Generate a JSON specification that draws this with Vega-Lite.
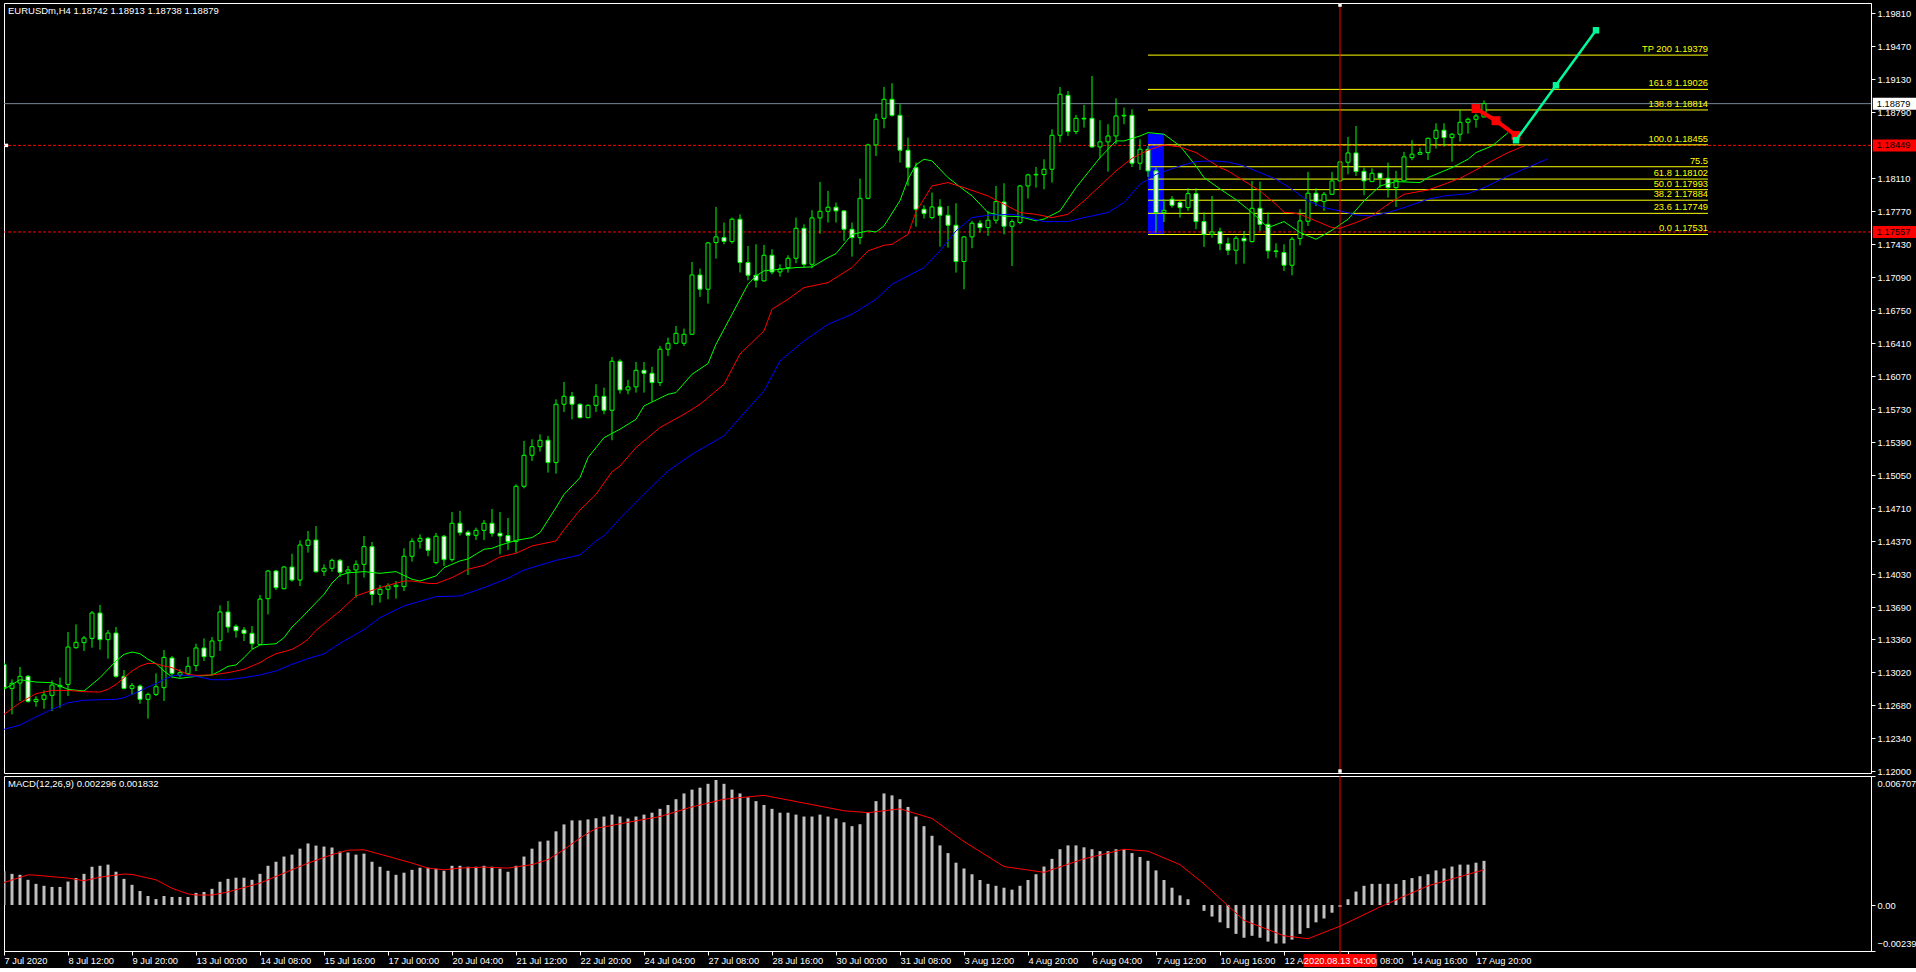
{
  "$schema": "https://vega.github.io/schema/vega-lite/v6.json",
  "background": "black",
  "padding": {"left": 3, "top": 2, "right": 0, "bottom": 0},
  "spacing": 3,
  "bounds": "flush",
  "config": {
    "view": {"stroke": "white", "strokeWidth": 1},
    "font": "Liberation Sans",
    "scale": {"continuousPadding": 0},
    "axis": {"labelOverlap": false, "labelSeparation": 0},
    "title": {"font": "Liberation Sans", "fontSize": 9.5, "fontWeight": "normal", "color": "white"}
  },
  "datasets": {
    "candles": [
      {"j":0,"o":1.13102,"h":1.1312,"l":1.12845,"c":1.12862},
      {"j":1,"o":1.12855,"h":1.12948,"l":1.12587,"c":1.12907},
      {"j":2,"o":1.1291,"h":1.13075,"l":1.12725,"c":1.12979},
      {"j":3,"o":1.12979,"h":1.12992,"l":1.12707,"c":1.12721},
      {"j":4,"o":1.12721,"h":1.12773,"l":1.12666,"c":1.12742},
      {"j":5,"o":1.12742,"h":1.12834,"l":1.12646,"c":1.12786},
      {"j":6,"o":1.12783,"h":1.12937,"l":1.12622,"c":1.12889},
      {"j":7,"o":1.12872,"h":1.12965,"l":1.12656,"c":1.12886},
      {"j":8,"o":1.12896,"h":1.13435,"l":1.12776,"c":1.13281},
      {"j":9,"o":1.13274,"h":1.13514,"l":1.13264,"c":1.13329},
      {"j":10,"o":1.13326,"h":1.13394,"l":1.1324,"c":1.13374},
      {"j":11,"o":1.1337,"h":1.13652,"l":1.13274,"c":1.13631},
      {"j":12,"o":1.13631,"h":1.13714,"l":1.13253,"c":1.13357},
      {"j":13,"o":1.13357,"h":1.13456,"l":1.13161,"c":1.13425},
      {"j":14,"o":1.13425,"h":1.13487,"l":1.12965,"c":1.12979},
      {"j":15,"o":1.12979,"h":1.13044,"l":1.12845,"c":1.12855},
      {"j":16,"o":1.12855,"h":1.1291,"l":1.12786,"c":1.12883},
      {"j":17,"o":1.12879,"h":1.12896,"l":1.12697,"c":1.12742},
      {"j":18,"o":1.12742,"h":1.1281,"l":1.12543,"c":1.12793},
      {"j":19,"o":1.12793,"h":1.1301,"l":1.12776,"c":1.12872},
      {"j":20,"o":1.12862,"h":1.1325,"l":1.12725,"c":1.13174},
      {"j":21,"o":1.13168,"h":1.13188,"l":1.12965,"c":1.1301},
      {"j":22,"o":1.12992,"h":1.13051,"l":1.12965,"c":1.13017},
      {"j":23,"o":1.13006,"h":1.13178,"l":1.12982,"c":1.13082},
      {"j":24,"o":1.13089,"h":1.13315,"l":1.13034,"c":1.13271},
      {"j":25,"o":1.13271,"h":1.1337,"l":1.13137,"c":1.13181},
      {"j":26,"o":1.13181,"h":1.13384,"l":1.12989,"c":1.13343},
      {"j":27,"o":1.13346,"h":1.1371,"l":1.1324,"c":1.13642},
      {"j":28,"o":1.13642,"h":1.13755,"l":1.13429,"c":1.13487},
      {"j":29,"o":1.13494,"h":1.13514,"l":1.13377,"c":1.13449},
      {"j":30,"o":1.13456,"h":1.13487,"l":1.13343,"c":1.13422},
      {"j":31,"o":1.13422,"h":1.13497,"l":1.13257,"c":1.13315},
      {"j":32,"o":1.13308,"h":1.13817,"l":1.13302,"c":1.13775},
      {"j":33,"o":1.13779,"h":1.14074,"l":1.13617,"c":1.14064},
      {"j":34,"o":1.14064,"h":1.14074,"l":1.13868,"c":1.13892},
      {"j":35,"o":1.13882,"h":1.14115,"l":1.13875,"c":1.14105},
      {"j":36,"o":1.14105,"h":1.14242,"l":1.13954,"c":1.13971},
      {"j":37,"o":1.13971,"h":1.1438,"l":1.13909,"c":1.14332},
      {"j":38,"o":1.14328,"h":1.14476,"l":1.14253,"c":1.14383},
      {"j":39,"o":1.14383,"h":1.14527,"l":1.14047,"c":1.14057},
      {"j":40,"o":1.14061,"h":1.14133,"l":1.14013,"c":1.14092},
      {"j":41,"o":1.14092,"h":1.14192,"l":1.14058,"c":1.14174},
      {"j":42,"o":1.14174,"h":1.14188,"l":1.14003,"c":1.14051},
      {"j":43,"o":1.14051,"h":1.14116,"l":1.13927,"c":1.14075},
      {"j":44,"o":1.14075,"h":1.14174,"l":1.1379,"c":1.14133},
      {"j":45,"o":1.14133,"h":1.14425,"l":1.13996,"c":1.14315},
      {"j":46,"o":1.14315,"h":1.14363,"l":1.13711,"c":1.13824},
      {"j":47,"o":1.13824,"h":1.1392,"l":1.13738,"c":1.13876},
      {"j":48,"o":1.13876,"h":1.13937,"l":1.13773,"c":1.1391},
      {"j":49,"o":1.13903,"h":1.13961,"l":1.13779,"c":1.13917},
      {"j":50,"o":1.13903,"h":1.14298,"l":1.13858,"c":1.14216},
      {"j":51,"o":1.14216,"h":1.14401,"l":1.14161,"c":1.1437},
      {"j":52,"o":1.1437,"h":1.14442,"l":1.14295,"c":1.14401},
      {"j":53,"o":1.14401,"h":1.14415,"l":1.14216,"c":1.14277},
      {"j":54,"o":1.1415,"h":1.14456,"l":1.14133,"c":1.14422},
      {"j":55,"o":1.14422,"h":1.14435,"l":1.14116,"c":1.14181},
      {"j":56,"o":1.14181,"h":1.14672,"l":1.14161,"c":1.14556},
      {"j":57,"o":1.14556,"h":1.14683,"l":1.14429,"c":1.14459},
      {"j":58,"o":1.14463,"h":1.14483,"l":1.14023,"c":1.14432},
      {"j":59,"o":1.14432,"h":1.14511,"l":1.14384,"c":1.14483},
      {"j":60,"o":1.14483,"h":1.1459,"l":1.14384,"c":1.14556},
      {"j":61,"o":1.14556,"h":1.14703,"l":1.14418,"c":1.14453},
      {"j":62,"o":1.14453,"h":1.14672,"l":1.14236,"c":1.14425},
      {"j":63,"o":1.14429,"h":1.1461,"l":1.14281,"c":1.14367},
      {"j":64,"o":1.14367,"h":1.14957,"l":1.14253,"c":1.14937},
      {"j":65,"o":1.14937,"h":1.15404,"l":1.14916,"c":1.15256},
      {"j":66,"o":1.15256,"h":1.15421,"l":1.15198,"c":1.15345},
      {"j":67,"o":1.15345,"h":1.15472,"l":1.15294,"c":1.15411},
      {"j":68,"o":1.15411,"h":1.15455,"l":1.15078,"c":1.15181},
      {"j":69,"o":1.15181,"h":1.15833,"l":1.15067,"c":1.15782},
      {"j":70,"o":1.15782,"h":1.16012,"l":1.15703,"c":1.15864},
      {"j":71,"o":1.15864,"h":1.15909,"l":1.15627,"c":1.15782},
      {"j":72,"o":1.15782,"h":1.15792,"l":1.15637,"c":1.15644},
      {"j":73,"o":1.15644,"h":1.15782,"l":1.15637,"c":1.15771},
      {"j":74,"o":1.15771,"h":1.15988,"l":1.15703,"c":1.15864},
      {"j":75,"o":1.15864,"h":1.15953,"l":1.15679,"c":1.1572},
      {"j":76,"o":1.1572,"h":1.16269,"l":1.15411,"c":1.16225},
      {"j":77,"o":1.16225,"h":1.16246,"l":1.15892,"c":1.1593},
      {"j":78,"o":1.1593,"h":1.16033,"l":1.15885,"c":1.15961},
      {"j":79,"o":1.15961,"h":1.16218,"l":1.15902,"c":1.16132},
      {"j":80,"o":1.16132,"h":1.16218,"l":1.15902,"c":1.16101},
      {"j":81,"o":1.16101,"h":1.16167,"l":1.15809,"c":1.16005},
      {"j":82,"o":1.16005,"h":1.16383,"l":1.15971,"c":1.16349},
      {"j":83,"o":1.16349,"h":1.16469,"l":1.1628,"c":1.1641},
      {"j":84,"o":1.1641,"h":1.16589,"l":1.164,"c":1.16513},
      {"j":85,"o":1.1641,"h":1.16562,"l":1.16383,"c":1.16503},
      {"j":86,"o":1.16503,"h":1.17248,"l":1.16496,"c":1.17114},
      {"j":87,"o":1.17114,"h":1.1718,"l":1.16888,"c":1.16967},
      {"j":88,"o":1.16967,"h":1.17454,"l":1.16819,"c":1.17444},
      {"j":89,"o":1.17448,"h":1.17815,"l":1.17283,"c":1.17506},
      {"j":90,"o":1.17499,"h":1.17654,"l":1.1743,"c":1.17461},
      {"j":91,"o":1.17458,"h":1.17705,"l":1.17437,"c":1.17688},
      {"j":92,"o":1.17688,"h":1.17739,"l":1.1714,"c":1.17242},
      {"j":93,"o":1.17242,"h":1.17413,"l":1.17059,"c":1.17111},
      {"j":94,"o":1.17111,"h":1.1743,"l":1.16984,"c":1.17059},
      {"j":95,"o":1.17053,"h":1.17423,"l":1.17046,"c":1.17317},
      {"j":96,"o":1.17317,"h":1.17379,"l":1.17121,"c":1.17145},
      {"j":97,"o":1.17145,"h":1.17224,"l":1.17097,"c":1.17176},
      {"j":98,"o":1.1719,"h":1.17317,"l":1.17138,"c":1.17286},
      {"j":99,"o":1.17286,"h":1.17705,"l":1.17235,"c":1.17595},
      {"j":100,"o":1.17595,"h":1.17636,"l":1.1719,"c":1.17224},
      {"j":101,"o":1.17224,"h":1.17781,"l":1.17183,"c":1.17702},
      {"j":102,"o":1.17702,"h":1.18073,"l":1.1754,"c":1.1777},
      {"j":103,"o":1.1777,"h":1.1798,"l":1.17654,"c":1.17812},
      {"j":104,"o":1.17812,"h":1.1786,"l":1.17654,"c":1.17774},
      {"j":105,"o":1.17774,"h":1.17781,"l":1.17465,"c":1.17585},
      {"j":106,"o":1.17585,"h":1.17654,"l":1.17303,"c":1.17499},
      {"j":107,"o":1.17499,"h":1.18107,"l":1.1743,"c":1.17904},
      {"j":108,"o":1.17904,"h":1.18467,"l":1.17894,"c":1.18454},
      {"j":109,"o":1.18454,"h":1.18776,"l":1.1834,"c":1.18718},
      {"j":110,"o":1.18728,"h":1.19051,"l":1.18625,"c":1.18924},
      {"j":111,"o":1.18924,"h":1.19089,"l":1.18746,"c":1.18759},
      {"j":112,"o":1.18759,"h":1.18873,"l":1.18272,"c":1.18399},
      {"j":113,"o":1.18399,"h":1.18529,"l":1.18031,"c":1.1822},
      {"j":114,"o":1.1822,"h":1.18272,"l":1.17612,"c":1.17791},
      {"j":115,"o":1.17791,"h":1.17832,"l":1.17695,"c":1.17746},
      {"j":116,"o":1.17705,"h":1.17963,"l":1.17688,"c":1.17815},
      {"j":117,"o":1.17815,"h":1.17894,"l":1.17406,"c":1.17729},
      {"j":118,"o":1.17729,"h":1.17825,"l":1.17396,"c":1.17626},
      {"j":119,"o":1.17626,"h":1.17853,"l":1.17138,"c":1.17252},
      {"j":120,"o":1.17252,"h":1.17516,"l":1.16967,"c":1.17506},
      {"j":121,"o":1.17506,"h":1.17671,"l":1.17389,"c":1.17647},
      {"j":122,"o":1.17647,"h":1.17678,"l":1.1755,"c":1.17602},
      {"j":123,"o":1.17602,"h":1.17774,"l":1.17516,"c":1.17678},
      {"j":124,"o":1.17678,"h":1.18031,"l":1.17643,"c":1.1787},
      {"j":125,"o":1.17866,"h":1.18059,"l":1.17533,"c":1.17616},
      {"j":126,"o":1.17616,"h":1.17688,"l":1.17207,"c":1.17664},
      {"j":127,"o":1.17654,"h":1.18042,"l":1.17636,"c":1.18031},
      {"j":128,"o":1.18031,"h":1.18158,"l":1.17901,"c":1.18145},
      {"j":129,"o":1.18145,"h":1.18227,"l":1.18014,"c":1.18151},
      {"j":130,"o":1.18148,"h":1.18306,"l":1.17997,"c":1.18203},
      {"j":131,"o":1.18203,"h":1.18615,"l":1.18066,"c":1.18553},
      {"j":132,"o":1.18553,"h":1.19051,"l":1.18478,"c":1.18976},
      {"j":133,"o":1.18965,"h":1.1901,"l":1.18546,"c":1.18591},
      {"j":134,"o":1.18591,"h":1.18763,"l":1.18564,"c":1.18728},
      {"j":135,"o":1.18728,"h":1.18866,"l":1.18632,"c":1.18721},
      {"j":136,"o":1.18728,"h":1.19164,"l":1.18426,"c":1.18433},
      {"j":137,"o":1.18433,"h":1.18708,"l":1.18316,"c":1.18485},
      {"j":138,"o":1.18485,"h":1.18667,"l":1.18179,"c":1.18546},
      {"j":139,"o":1.18546,"h":1.18934,"l":1.18461,"c":1.18752},
      {"j":140,"o":1.18752,"h":1.18838,"l":1.18667,"c":1.18759},
      {"j":141,"o":1.18759,"h":1.18821,"l":1.18227,"c":1.18265},
      {"j":142,"o":1.18265,"h":1.18512,"l":1.18196,"c":1.18409},
      {"j":143,"o":1.18409,"h":1.18443,"l":1.18124,"c":1.18186},
      {"j":144,"o":1.18186,"h":1.1822,"l":1.1755,"c":1.17757},
      {"j":145,"o":1.17757,"h":1.17894,"l":1.1766,"c":1.1778},
      {"j":146,"o":1.17894,"h":1.17928,"l":1.17808,"c":1.17832},
      {"j":147,"o":1.1786,"h":1.17877,"l":1.17705,"c":1.17808},
      {"j":148,"o":1.17808,"h":1.18007,"l":1.17774,"c":1.17952},
      {"j":149,"o":1.17952,"h":1.18007,"l":1.17585,"c":1.17664},
      {"j":150,"o":1.17664,"h":1.17757,"l":1.17403,"c":1.17533},
      {"j":151,"o":1.17533,"h":1.17928,"l":1.17499,"c":1.17557},
      {"j":152,"o":1.17561,"h":1.17602,"l":1.17369,"c":1.17437},
      {"j":153,"o":1.17437,"h":1.17499,"l":1.1732,"c":1.17369},
      {"j":154,"o":1.17369,"h":1.17516,"l":1.17224,"c":1.17492},
      {"j":155,"o":1.17492,"h":1.17568,"l":1.17231,"c":1.17465},
      {"j":156,"o":1.17458,"h":1.18083,"l":1.17448,"c":1.17801},
      {"j":157,"o":1.17801,"h":1.18076,"l":1.17568,"c":1.17636},
      {"j":158,"o":1.17636,"h":1.17757,"l":1.17283,"c":1.17362},
      {"j":159,"o":1.17362,"h":1.17441,"l":1.17293,"c":1.17355},
      {"j":160,"o":1.17345,"h":1.1743,"l":1.17156,"c":1.17214},
      {"j":161,"o":1.17214,"h":1.17506,"l":1.17111,"c":1.17482},
      {"j":162,"o":1.17489,"h":1.17791,"l":1.1742,"c":1.17671},
      {"j":163,"o":1.17667,"h":1.18176,"l":1.17619,"c":1.17956},
      {"j":164,"o":1.17956,"h":1.18007,"l":1.17825,"c":1.1787},
      {"j":165,"o":1.1787,"h":1.17969,"l":1.17774,"c":1.17945},
      {"j":166,"o":1.17945,"h":1.18176,"l":1.17939,"c":1.18083},
      {"j":167,"o":1.18083,"h":1.18279,"l":1.18076,"c":1.18279},
      {"j":168,"o":1.18275,"h":1.18536,"l":1.18152,"c":1.18371},
      {"j":169,"o":1.18371,"h":1.18649,"l":1.18134,"c":1.18179},
      {"j":170,"o":1.18182,"h":1.1822,"l":1.17935,"c":1.18083},
      {"j":171,"o":1.18076,"h":1.18213,"l":1.18076,"c":1.18162},
      {"j":172,"o":1.18162,"h":1.18162,"l":1.18014,"c":1.1811},
      {"j":173,"o":1.1811,"h":1.18272,"l":1.17911,"c":1.18014},
      {"j":174,"o":1.18014,"h":1.18186,"l":1.17815,"c":1.1809},
      {"j":175,"o":1.18083,"h":1.18382,"l":1.18076,"c":1.1833},
      {"j":176,"o":1.18323,"h":1.18502,"l":1.18296,"c":1.18358},
      {"j":177,"o":1.18358,"h":1.18426,"l":1.18351,"c":1.18375},
      {"j":178,"o":1.18375,"h":1.18529,"l":1.18299,"c":1.18522},
      {"j":179,"o":1.18522,"h":1.18677,"l":1.18416,"c":1.18605},
      {"j":180,"o":1.18605,"h":1.18677,"l":1.18437,"c":1.18529},
      {"j":181,"o":1.18529,"h":1.18577,"l":1.18282,"c":1.18564},
      {"j":182,"o":1.18564,"h":1.18814,"l":1.18488,"c":1.18687},
      {"j":183,"o":1.18687,"h":1.18735,"l":1.1857,"c":1.18718},
      {"j":184,"o":1.18718,"h":1.18776,"l":1.18632,"c":1.18752},
      {"j":185,"o":1.18742,"h":1.18913,"l":1.18738,"c":1.18879}
    ],
    "ma": [
      {"s":"lips","j":0,"v":1.12845},{"s":"lips","j":2,"v":1.12944},{"s":"lips","j":4,"v":1.1292},{"s":"lips","j":6,"v":1.12913},{"s":"lips","j":8,"v":1.12845},{"s":"lips","j":10,"v":1.12828},{"s":"lips","j":11,"v":1.12896},{"s":"lips","j":12,"v":1.12965},{"s":"lips","j":13,"v":1.13051},{"s":"lips","j":14,"v":1.13137},{"s":"lips","j":15,"v":1.13205},{"s":"lips","j":16,"v":1.13229},{"s":"lips","j":17,"v":1.13212},{"s":"lips","j":18,"v":1.13154},{"s":"lips","j":19,"v":1.13109},{"s":"lips","j":20,"v":1.13034},{"s":"lips","j":21,"v":1.12972},{"s":"lips","j":22,"v":1.12958},{"s":"lips","j":24,"v":1.12979},{"s":"lips","j":26,"v":1.12993},{"s":"lips","j":27,"v":1.13034},{"s":"lips","j":28,"v":1.13082},{"s":"lips","j":29,"v":1.13096},{"s":"lips","j":30,"v":1.13171},{"s":"lips","j":31,"v":1.13257},{"s":"lips","j":32,"v":1.13302},{"s":"lips","j":34,"v":1.13315},{"s":"lips","j":35,"v":1.13377},{"s":"lips","j":36,"v":1.13487},{"s":"lips","j":37,"v":1.13566},{"s":"lips","j":38,"v":1.13652},{"s":"lips","j":39,"v":1.13738},{"s":"lips","j":40,"v":1.13824},{"s":"lips","j":41,"v":1.1394},{"s":"lips","j":42,"v":1.1402},{"s":"lips","j":43,"v":1.14045},{"s":"lips","j":45,"v":1.14058},{"s":"lips","j":47,"v":1.1404},{"s":"lips","j":49,"v":1.14058},{"s":"lips","j":51,"v":1.13979},{"s":"lips","j":52,"v":1.13961},{"s":"lips","j":54,"v":1.14013},{"s":"lips","j":55,"v":1.14099},{"s":"lips","j":57,"v":1.14168},{"s":"lips","j":58,"v":1.14188},{"s":"lips","j":60,"v":1.14288},{"s":"lips","j":61,"v":1.14298},{"s":"lips","j":62,"v":1.14329},{"s":"lips","j":64,"v":1.1438},{"s":"lips","j":66,"v":1.14408},{"s":"lips","j":67,"v":1.1446},{"s":"lips","j":69,"v":1.14717},{"s":"lips","j":70,"v":1.14854},{"s":"lips","j":72,"v":1.15026},{"s":"lips","j":73,"v":1.15232},{"s":"lips","j":75,"v":1.15438},{"s":"lips","j":77,"v":1.15525},{"s":"lips","j":79,"v":1.15627},{"s":"lips","j":80,"v":1.15765},{"s":"lips","j":83,"v":1.15885},{"s":"lips","j":84,"v":1.15902},{"s":"lips","j":86,"v":1.16091},{"s":"lips","j":88,"v":1.16201},{"s":"lips","j":89,"v":1.164},{"s":"lips","j":91,"v":1.16709},{"s":"lips","j":93,"v":1.17018},{"s":"lips","j":94,"v":1.17104},{"s":"lips","j":95,"v":1.17156},{"s":"lips","j":97,"v":1.17173},{"s":"lips","j":99,"v":1.1719},{"s":"lips","j":101,"v":1.17197},{"s":"lips","j":103,"v":1.17293},{"s":"lips","j":104,"v":1.17334},{"s":"lips","j":106,"v":1.17533},{"s":"lips","j":108,"v":1.17568},{"s":"lips","j":109,"v":1.17557},{"s":"lips","j":110,"v":1.17619},{"s":"lips","j":112,"v":1.1788},{"s":"lips","j":113,"v":1.181},{"s":"lips","j":114,"v":1.1825},{"s":"lips","j":115,"v":1.18306},{"s":"lips","j":116,"v":1.18289},{"s":"lips","j":118,"v":1.18117},{"s":"lips","j":120,"v":1.1799},{"s":"lips","j":121,"v":1.1793},{"s":"lips","j":123,"v":1.17757},{"s":"lips","j":125,"v":1.1772},{"s":"lips","j":127,"v":1.17715},{"s":"lips","j":129,"v":1.17671},{"s":"lips","j":130,"v":1.1769},{"s":"lips","j":132,"v":1.17774},{"s":"lips","j":134,"v":1.18014},{"s":"lips","j":136,"v":1.1822},{"s":"lips","j":137,"v":1.18323},{"s":"lips","j":139,"v":1.18495},{"s":"lips","j":140,"v":1.18495},{"s":"lips","j":142,"v":1.18546},{"s":"lips","j":143,"v":1.18581},{"s":"lips","j":145,"v":1.18564},{"s":"lips","j":147,"v":1.18443},{"s":"lips","j":149,"v":1.18237},{"s":"lips","j":150,"v":1.18117},{"s":"lips","j":152,"v":1.18},{"s":"lips","j":154,"v":1.1789},{"s":"lips","j":156,"v":1.17757},{"s":"lips","j":158,"v":1.17602},{"s":"lips","j":160,"v":1.17664},{"s":"lips","j":162,"v":1.17551},{"s":"lips","j":164,"v":1.17482},{"s":"lips","j":166,"v":1.17575},{"s":"lips","j":168,"v":1.17688},{"s":"lips","j":170,"v":1.17877},{"s":"lips","j":172,"v":1.18031},{"s":"lips","j":174,"v":1.18076},{"s":"lips","j":177,"v":1.18066},{"s":"lips","j":178,"v":1.18117},{"s":"lips","j":181,"v":1.1822},{"s":"lips","j":183,"v":1.18306},{"s":"lips","j":184,"v":1.18375},{"s":"lips","j":186,"v":1.18443},{"s":"lips","j":188,"v":1.1858},
      {"s":"teeth","j":0,"v":1.12587},{"s":"teeth","j":2,"v":1.12707},{"s":"teeth","j":4,"v":1.128},{"s":"teeth","j":6,"v":1.12834},{"s":"teeth","j":8,"v":1.12834},{"s":"teeth","j":10,"v":1.12821},{"s":"teeth","j":12,"v":1.12817},{"s":"teeth","j":13,"v":1.12845},{"s":"teeth","j":14,"v":1.12896},{"s":"teeth","j":15,"v":1.12965},{"s":"teeth","j":16,"v":1.13034},{"s":"teeth","j":17,"v":1.13085},{"s":"teeth","j":18,"v":1.13113},{"s":"teeth","j":19,"v":1.13109},{"s":"teeth","j":20,"v":1.13085},{"s":"teeth","j":21,"v":1.13068},{"s":"teeth","j":22,"v":1.13034},{"s":"teeth","j":23,"v":1.12999},{"s":"teeth","j":24,"v":1.12989},{"s":"teeth","j":26,"v":1.12993},{"s":"teeth","j":28,"v":1.13017},{"s":"teeth","j":30,"v":1.13051},{"s":"teeth","j":32,"v":1.1312},{"s":"teeth","j":33,"v":1.13171},{"s":"teeth","j":34,"v":1.13212},{"s":"teeth","j":35,"v":1.13233},{"s":"teeth","j":36,"v":1.13257},{"s":"teeth","j":37,"v":1.13302},{"s":"teeth","j":38,"v":1.1336},{"s":"teeth","j":39,"v":1.13453},{"s":"teeth","j":42,"v":1.13652},{"s":"teeth","j":44,"v":1.13807},{"s":"teeth","j":47,"v":1.13893},{"s":"teeth","j":50,"v":1.13961},{"s":"teeth","j":51,"v":1.13961},{"s":"teeth","j":53,"v":1.13937},{"s":"teeth","j":54,"v":1.13934},{"s":"teeth","j":56,"v":1.13996},{"s":"teeth","j":58,"v":1.14082},{"s":"teeth","j":60,"v":1.14123},{"s":"teeth","j":62,"v":1.14209},{"s":"teeth","j":64,"v":1.14247},{"s":"teeth","j":66,"v":1.14322},{"s":"teeth","j":69,"v":1.14374},{"s":"teeth","j":70,"v":1.1449},{"s":"teeth","j":72,"v":1.14693},{"s":"teeth","j":74,"v":1.14854},{"s":"teeth","j":76,"v":1.15087},{"s":"teeth","j":77,"v":1.15146},{"s":"teeth","j":79,"v":1.15336},{"s":"teeth","j":82,"v":1.15542},{"s":"teeth","j":85,"v":1.15679},{"s":"teeth","j":87,"v":1.15782},{"s":"teeth","j":90,"v":1.15988},{"s":"teeth","j":92,"v":1.163},{"s":"teeth","j":95,"v":1.16538},{"s":"teeth","j":96,"v":1.16761},{"s":"teeth","j":98,"v":1.16864},{"s":"teeth","j":100,"v":1.16984},{"s":"teeth","j":103,"v":1.17035},{"s":"teeth","j":105,"v":1.17139},{"s":"teeth","j":106,"v":1.1719},{"s":"teeth","j":108,"v":1.17362},{"s":"teeth","j":110,"v":1.1742},{"s":"teeth","j":111,"v":1.1743},{"s":"teeth","j":112,"v":1.17482},{"s":"teeth","j":113,"v":1.17533},{"s":"teeth","j":114,"v":1.17765},{"s":"teeth","j":116,"v":1.18031},{"s":"teeth","j":118,"v":1.18066},{"s":"teeth","j":120,"v":1.18014},{"s":"teeth","j":123,"v":1.17928},{"s":"teeth","j":125,"v":1.17842},{"s":"teeth","j":127,"v":1.17757},{"s":"teeth","j":129,"v":1.17739},{"s":"teeth","j":131,"v":1.17705},{"s":"teeth","j":133,"v":1.17739},{"s":"teeth","j":135,"v":1.17877},{"s":"teeth","j":137,"v":1.18031},{"s":"teeth","j":139,"v":1.18186},{"s":"teeth","j":141,"v":1.18316},{"s":"teeth","j":143,"v":1.18399},{"s":"teeth","j":145,"v":1.18454},{"s":"teeth","j":147,"v":1.18433},{"s":"teeth","j":149,"v":1.18375},{"s":"teeth","j":151,"v":1.18272},{"s":"teeth","j":152,"v":1.1822},{"s":"teeth","j":153,"v":1.18186},{"s":"teeth","j":155,"v":1.18083},{"s":"teeth","j":157,"v":1.1798},{"s":"teeth","j":159,"v":1.17842},{"s":"teeth","j":160,"v":1.1776},{"s":"teeth","j":161,"v":1.17755},{"s":"teeth","j":162,"v":1.17739},{"s":"teeth","j":164,"v":1.17671},{"s":"teeth","j":166,"v":1.17602},{"s":"teeth","j":167,"v":1.17595},{"s":"teeth","j":169,"v":1.17654},{"s":"teeth","j":171,"v":1.17722},{"s":"teeth","j":173,"v":1.17842},{"s":"teeth","j":175,"v":1.17945},{"s":"teeth","j":178,"v":1.1799},{"s":"teeth","j":180,"v":1.18048},{"s":"teeth","j":182,"v":1.1811},{"s":"teeth","j":184,"v":1.18196},{"s":"teeth","j":186,"v":1.18289},{"s":"teeth","j":188,"v":1.18375},{"s":"teeth","j":190,"v":1.18443},
      {"s":"jaw","j":0,"v":1.12433},{"s":"jaw","j":2,"v":1.12477},{"s":"jaw","j":4,"v":1.1256},{"s":"jaw","j":6,"v":1.12639},{"s":"jaw","j":8,"v":1.12707},{"s":"jaw","j":10,"v":1.12732},{"s":"jaw","j":12,"v":1.12738},{"s":"jaw","j":14,"v":1.12742},{"s":"jaw","j":15,"v":1.12759},{"s":"jaw","j":16,"v":1.12793},{"s":"jaw","j":17,"v":1.12828},{"s":"jaw","j":18,"v":1.12869},{"s":"jaw","j":19,"v":1.12903},{"s":"jaw","j":20,"v":1.12948},{"s":"jaw","j":21,"v":1.12982},{"s":"jaw","j":22,"v":1.12993},{"s":"jaw","j":24,"v":1.12979},{"s":"jaw","j":26,"v":1.12944},{"s":"jaw","j":28,"v":1.12944},{"s":"jaw","j":30,"v":1.12965},{"s":"jaw","j":32,"v":1.12993},{"s":"jaw","j":34,"v":1.13034},{"s":"jaw","j":36,"v":1.13103},{"s":"jaw","j":38,"v":1.13161},{"s":"jaw","j":40,"v":1.1321},{"s":"jaw","j":42,"v":1.1332},{"s":"jaw","j":45,"v":1.1346},{"s":"jaw","j":47,"v":1.13584},{"s":"jaw","j":50,"v":1.13704},{"s":"jaw","j":54,"v":1.138},{"s":"jaw","j":57,"v":1.13807},{"s":"jaw","j":60,"v":1.13893},{"s":"jaw","j":63,"v":1.13989},{"s":"jaw","j":65,"v":1.14075},{"s":"jaw","j":69,"v":1.14174},{"s":"jaw","j":72,"v":1.14229},{"s":"jaw","j":74,"v":1.14374},{"s":"jaw","j":75,"v":1.14426},{"s":"jaw","j":77,"v":1.14605},{"s":"jaw","j":80,"v":1.14855},{"s":"jaw","j":83,"v":1.15095},{"s":"jaw","j":86,"v":1.15267},{"s":"jaw","j":90,"v":1.15456},{"s":"jaw","j":92,"v":1.15645},{"s":"jaw","j":95,"v":1.15919},{"s":"jaw","j":97,"v":1.16228},{"s":"jaw","j":100,"v":1.16434},{"s":"jaw","j":103,"v":1.16606},{"s":"jaw","j":106,"v":1.16709},{"s":"jaw","j":109,"v":1.16864},{"s":"jaw","j":111,"v":1.17018},{"s":"jaw","j":113,"v":1.17104},{"s":"jaw","j":115,"v":1.1719},{"s":"jaw","j":117,"v":1.17362},{"s":"jaw","j":119,"v":1.17568},{"s":"jaw","j":121,"v":1.17705},{"s":"jaw","j":123,"v":1.17729},{"s":"jaw","j":126,"v":1.17739},{"s":"jaw","j":128,"v":1.17705},{"s":"jaw","j":130,"v":1.17664},{"s":"jaw","j":133,"v":1.17664},{"s":"jaw","j":135,"v":1.17705},{"s":"jaw","j":138,"v":1.17757},{"s":"jaw","j":140,"v":1.1786},{"s":"jaw","j":142,"v":1.18048},{"s":"jaw","j":144,"v":1.18151},{"s":"jaw","j":147,"v":1.18237},{"s":"jaw","j":149,"v":1.18282},{"s":"jaw","j":151,"v":1.18289},{"s":"jaw","j":153,"v":1.18279},{"s":"jaw","j":155,"v":1.18237},{"s":"jaw","j":157,"v":1.18169},{"s":"jaw","j":159,"v":1.181},{"s":"jaw","j":161,"v":1.17997},{"s":"jaw","j":163,"v":1.17877},{"s":"jaw","j":165,"v":1.17808},{"s":"jaw","j":167,"v":1.17774},{"s":"jaw","j":169,"v":1.17733},{"s":"jaw","j":171,"v":1.17722},{"s":"jaw","j":173,"v":1.17757},{"s":"jaw","j":175,"v":1.17808},{"s":"jaw","j":178,"v":1.17894},{"s":"jaw","j":180,"v":1.17928},{"s":"jaw","j":183,"v":1.17952},{"s":"jaw","j":185,"v":1.18014},{"s":"jaw","j":188,"v":1.18134},{"s":"jaw","j":193,"v":1.18312}
    ],
    "macd": [
      {"j":0,"m":0.00175},{"j":1,"m":0.00162},{"j":2,"m":0.00157},{"j":3,"m":0.00131},{"j":4,"m":0.0011},{"j":5,"m":0.001},{"j":6,"m":0.00094},{"j":7,"m":0.00094},{"j":8,"m":0.00122},{"j":9,"m":0.0014},{"j":10,"m":0.00162},{"j":11,"m":0.00199},{"j":12,"m":0.00204},{"j":13,"m":0.0021},{"j":14,"m":0.00173},{"j":15,"m":0.00136},{"j":16,"m":0.00105},{"j":17,"m":0.00073},{"j":18,"m":0.00047},{"j":19,"m":0.00031},{"j":20,"m":0.00047},{"j":21,"m":0.00042},{"j":22,"m":0.00042},{"j":23,"m":0.00042},{"j":24,"m":0.00063},{"j":25,"m":0.00068},{"j":26,"m":0.00084},{"j":27,"m":0.00121},{"j":28,"m":0.00136},{"j":29,"m":0.00142},{"j":30,"m":0.00142},{"j":31,"m":0.00131},{"j":32,"m":0.00162},{"j":33,"m":0.00204},{"j":34,"m":0.00225},{"j":35,"m":0.00252},{"j":36,"m":0.00262},{"j":37,"m":0.00293},{"j":38,"m":0.0032},{"j":39,"m":0.00309},{"j":40,"m":0.00304},{"j":41,"m":0.00299},{"j":42,"m":0.00278},{"j":43,"m":0.00273},{"j":44,"m":0.00262},{"j":45,"m":0.00267},{"j":46,"m":0.00225},{"j":47,"m":0.00199},{"j":48,"m":0.00178},{"j":49,"m":0.00157},{"j":50,"m":0.00168},{"j":51,"m":0.00183},{"j":52,"m":0.00194},{"j":53,"m":0.00194},{"j":54,"m":0.00189},{"j":55,"m":0.00178},{"j":56,"m":0.00204},{"j":57,"m":0.00204},{"j":58,"m":0.00199},{"j":59,"m":0.00199},{"j":60,"m":0.00204},{"j":61,"m":0.00199},{"j":62,"m":0.00189},{"j":63,"m":0.00173},{"j":64,"m":0.00204},{"j":65,"m":0.00252},{"j":66,"m":0.00293},{"j":67,"m":0.0033},{"j":68,"m":0.00335},{"j":69,"m":0.00383},{"j":70,"m":0.00419},{"j":71,"m":0.0044},{"j":72,"m":0.0044},{"j":73,"m":0.00445},{"j":74,"m":0.00451},
      {"j":75,"m":0.0046},{"j":76,"m":0.0047},{"j":77,"m":0.0046},{"j":78,"m":0.0045},{"j":79,"m":0.0046},{"j":80,"m":0.0047},{"j":81,"m":0.0048},{"j":82,"m":0.005},{"j":83,"m":0.0052},{"j":84,"m":0.0055},{"j":85,"m":0.0058},{"j":86,"m":0.006},{"j":87,"m":0.0061},{"j":88,"m":0.0063},{"j":89,"m":0.0065},{"j":90,"m":0.0063},{"j":91,"m":0.006},{"j":92,"m":0.0058},{"j":93,"m":0.0056},{"j":94,"m":0.0054},{"j":95,"m":0.0052},{"j":96,"m":0.005},{"j":97,"m":0.0048},{"j":98,"m":0.0048},{"j":99,"m":0.0047},{"j":100,"m":0.0046},{"j":101,"m":0.0046},{"j":102,"m":0.0047},{"j":103,"m":0.0046},{"j":104,"m":0.0045},{"j":105,"m":0.0043},{"j":106,"m":0.0041},{"j":107,"m":0.0042},{"j":108,"m":0.0048},{"j":109,"m":0.0054},{"j":110,"m":0.0058},{"j":111,"m":0.0057},{"j":112,"m":0.0055},{"j":113,"m":0.0051},{"j":114,"m":0.0046},{"j":115,"m":0.0041},{"j":116,"m":0.0036},{"j":117,"m":0.0031},{"j":118,"m":0.0027},{"j":119,"m":0.0022},{"j":120,"m":0.0019},{"j":121,"m":0.0016},{"j":122,"m":0.0013},{"j":123,"m":0.0011},{"j":124,"m":0.001},{"j":125,"m":0.0009},{"j":126,"m":0.0008},{"j":127,"m":0.001},{"j":128,"m":0.0013},{"j":129,"m":0.0016},{"j":130,"m":0.002},{"j":131,"m":0.0024},{"j":132,"m":0.0029},{"j":133,"m":0.0031},{"j":134,"m":0.0031},{"j":135,"m":0.003},{"j":136,"m":0.0029},{"j":137,"m":0.0028},{"j":138,"m":0.0028},{"j":139,"m":0.0029},{"j":140,"m":0.0029},{"j":141,"m":0.0027},{"j":142,"m":0.0025},{"j":143,"m":0.0023},{"j":144,"m":0.0018},{"j":145,"m":0.0013},{"j":146,"m":0.0009},{"j":147,"m":0.0005},{"j":148,"m":0.0003},{"j":149,"m":0.0},{"j":150,"m":-0.0003},{"j":151,"m":-0.0006},{"j":152,"m":-0.0009},{"j":153,"m":-0.0012},{"j":154,"m":-0.0015},{"j":155,"m":-0.0017},{"j":156,"m":-0.0016},{"j":157,"m":-0.0017},{"j":158,"m":-0.0019},{"j":159,"m":-0.002},{"j":160,"m":-0.002},{"j":161,"m":-0.0018},{"j":162,"m":-0.0015},{"j":163,"m":-0.0012},{"j":164,"m":-0.0009},{"j":165,"m":-0.0007},{"j":166,"m":-0.0004},{"j":167,"m":-0.0001},{"j":168,"m":0.0003},{"j":169,"m":0.0007},{"j":170,"m":0.001},{"j":171,"m":0.0011},{"j":172,"m":0.0011},{"j":173,"m":0.0011},{"j":174,"m":0.0011},{"j":175,"m":0.0013},{"j":176,"m":0.0014},{"j":177,"m":0.0015},{"j":178,"m":0.0016},{"j":179,"m":0.0018},{"j":180,"m":0.0019},{"j":181,"m":0.002},{"j":182,"m":0.0021},{"j":183,"m":0.0021},{"j":184,"m":0.0022},{"j":185,"m":0.002296}
    ],
    "signal": [
      {"j":0,"s":0.00117},{"j":3,"s":0.00157},{"j":4,"s":0.00155},{"j":8,"s":0.0014},{"j":10,"s":0.00126},{"j":12,"s":0.00145},{"j":15,"s":0.00161},{"j":16,"s":0.00159},{"j":19,"s":0.00131},{"j":21,"s":0.00087},{"j":23,"s":0.00058},{"j":24,"s":0.00052},{"j":26,"s":0.00052},{"j":28,"s":0.00068},{"j":32,"s":0.00114},{"j":35,"s":0.00166},{"j":38,"s":0.00218},{"j":41,"s":0.00262},{"j":43,"s":0.00285},{"j":45,"s":0.00287},{"j":48,"s":0.00253},{"j":51,"s":0.00218},{"j":53,"s":0.00192},{"j":55,"s":0.00183},{"j":57,"s":0.00192},{"j":60,"s":0.00197},{"j":63,"s":0.00192},{"j":66,"s":0.0021},{"j":68,"s":0.00236},{"j":70,"s":0.00288},{"j":72,"s":0.00349},{"j":74,"s":0.00398},{"j":78,"s":0.0043},{"j":82,"s":0.0046},{"j":86,"s":0.0051},{"j":90,"s":0.0055},{"j":95,"s":0.0057},{"j":100,"s":0.0053},{"j":105,"s":0.0049},{"j":108,"s":0.0048},{"j":112,"s":0.005},{"j":116,"s":0.0045},{"j":120,"s":0.0033},{"j":125,"s":0.002},{"j":130,"s":0.0017},{"j":135,"s":0.0024},{"j":140,"s":0.0029},{"j":143,"s":0.0028},{"j":147,"s":0.0021},{"j":150,"s":0.0011},{"j":155,"s":-0.0008},{"j":160,"s":-0.0016},{"j":163,"s":-0.00175},{"j":167,"s":-0.0011},{"j":172,"s":-0.0001},{"j":178,"s":0.001},{"j":185,"s":0.001832}
    ],
    "levels": [
      {"p":1.18879,"kind":"bid"},
      {"p":1.18449,"kind":"line"},
      {"p":1.17557,"kind":"line"}
    ],
    "fib": [
      {"p":1.19379,"label":"TP 200 1.19379"},
      {"p":1.19026,"label":"161.8 1.19026"},
      {"p":1.18814,"label":"138.8 1.18814"},
      {"p":1.18455,"label":"100.0 1.18455"},
      {"p":1.18229,"label":"75.5"},
      {"p":1.18102,"label":"61.8 1.18102"},
      {"p":1.17993,"label":"50.0 1.17993"},
      {"p":1.17884,"label":"38.2 1.17884"},
      {"p":1.17749,"label":"23.6 1.17749"},
      {"p":1.17531,"label":"0.0 1.17531"}
    ],
    "sell": [
      {"j":184,"p":1.18829},{"j":186.5,"p":1.18703},{"j":189,"p":1.18552}
    ],
    "buy": [
      {"j":189,"p":1.18502},{"j":194,"p":1.19068},{"j":199,"p":1.19635}
    ]
  },
  "vconcat": [
    {
      "width": 1867,
      "height": 770,
      "title": {"text": "EURUSDm,H4  1.18742 1.18913 1.18738 1.18879", "anchor": "start", "frame": "group", "orient": "top", "offset": -13, "dx": 4},
      "layer": [
        {
          "data": {"values": [{}]},
          "mark": {"type": "rect", "color": "#0000FF"},
          "encoding": {
            "x": {"datum": 143, "type": "quantitative", "scale": {"domain": [0, 233.375], "nice": false, "zero": false, "padding": 0}, "axis": null},
            "x2": {"datum": 145},
            "y": {"datum": 1.1857, "type": "quantitative", "scale": {"domain": [1.11983, 1.19916], "nice": false, "zero": false, "padding": 0},
              "axis": {"orient": "right", "title": null, "grid": false, "tickCount": 40, "values": [1.12, 1.1234, 1.1268, 1.1302, 1.1336, 1.1369, 1.1403, 1.1437, 1.1471, 1.1505, 1.1539, 1.1573, 1.1607, 1.1641, 1.1675, 1.1709, 1.1743, 1.1777, 1.1811, 1.1879, 1.1913, 1.1947, 1.1981], "format": ".5f", "tickSize": 4, "tickColor": "white", "domainColor": "white", "labelColor": "white", "labelFont": "Liberation Sans", "labelFontSize": 9.3, "labelPadding": 2, "labelOverlap": false, "labelBound": false, "labelFlush": false}},
            "y2": {"datum": 1.17531}
          }
        },
        {
          "data": {"name": "levels"},
          "mark": {"type": "rule", "strokeWidth": 1},
          "encoding": {
            "y": {"field": "p", "type": "quantitative"},
            "color": {"condition": {"test": "datum.kind == 'bid'", "value": "#778899"}, "value": "#FF0000"},
            "strokeDash": {"condition": {"test": "datum.kind == 'bid'", "value": [1, 0]}, "value": [3, 2]}
          }
        },
        {
          "data": {"name": "fib"},
          "mark": {"type": "rule", "color": "#FFFF00", "strokeWidth": 1},
          "encoding": {
            "x": {"datum": 143, "type": "quantitative", "axis": null},
            "x2": {"datum": 213},
            "y": {"field": "p", "type": "quantitative"}
          }
        },
        {
          "data": {"name": "fib"},
          "mark": {"type": "text", "color": "#FFFF00", "align": "right", "baseline": "bottom", "dy": -1, "fontSize": 9.3, "font": "Liberation Sans"},
          "encoding": {
            "x": {"datum": 213, "type": "quantitative", "axis": null},
            "y": {"field": "p", "type": "quantitative"},
            "text": {"field": "label"}
          }
        },
        {
          "data": {"name": "candles"},
          "mark": {"type": "rule", "color": "#00FF00", "strokeWidth": 1, "clip": true},
          "encoding": {
            "x": {"field": "j", "type": "quantitative", "axis": null},
            "y": {"field": "l", "type": "quantitative"},
            "y2": {"field": "h"}
          }
        },
        {
          "data": {"name": "candles"},
          "mark": {"type": "bar", "orient": "vertical", "size": 4, "stroke": "#00FF00", "strokeWidth": 1, "clip": true},
          "encoding": {
            "x": {"field": "j", "type": "quantitative", "axis": null},
            "y": {"field": "o", "type": "quantitative"},
            "y2": {"field": "c"},
            "fill": {"condition": {"test": "datum.c < datum.o", "value": "white"}, "value": "black"}
          }
        },
        {
          "data": {"name": "ma"},
          "mark": {"type": "line", "strokeWidth": 1, "clip": true},
          "encoding": {
            "x": {"field": "j", "type": "quantitative", "axis": null},
            "y": {"field": "v", "type": "quantitative"},
            "color": {"field": "s", "type": "nominal", "scale": {"domain": ["lips", "teeth", "jaw"], "range": ["#00FF00", "#FF0000", "#0000FF"]}, "legend": null}
          }
        },
        {
          "data": {"values": [{}]},
          "mark": {"type": "rule", "color": "#FF0000", "strokeWidth": 1},
          "encoding": {"x": {"datum": 167, "type": "quantitative", "axis": null}}
        },
        {
          "data": {"values": [{}]},
          "mark": {"type": "point", "shape": "square", "filled": true, "color": "white", "size": 12, "opacity": 1},
          "encoding": {"x": {"datum": 167, "type": "quantitative", "axis": null}, "y": {"datum": 1.19895, "type": "quantitative"}}
        },
        {
          "data": {"values": [{}]},
          "mark": {"type": "point", "shape": "square", "filled": true, "color": "white", "size": 12, "opacity": 1},
          "encoding": {"x": {"datum": 167, "type": "quantitative", "axis": null}, "y": {"datum": 1.12003, "type": "quantitative"}}
        },
        {
          "data": {"values": [{}]},
          "mark": {"type": "point", "shape": "square", "filled": true, "color": "white", "size": 12, "opacity": 1},
          "encoding": {"x": {"datum": 0.3, "type": "quantitative", "axis": null}, "y": {"datum": 1.18449, "type": "quantitative"}}
        },
        {
          "data": {"name": "sell"},
          "mark": {"type": "line", "color": "#FF0000", "strokeWidth": 4},
          "encoding": {
            "x": {"field": "j", "type": "quantitative", "axis": null},
            "y": {"field": "p", "type": "quantitative"}
          }
        },
        {
          "data": {"name": "sell"},
          "mark": {"type": "point", "shape": "square", "filled": true, "color": "#FF0000", "size": 80, "opacity": 1},
          "encoding": {
            "x": {"field": "j", "type": "quantitative", "axis": null},
            "y": {"field": "p", "type": "quantitative"}
          }
        },
        {
          "data": {"name": "buy"},
          "mark": {"type": "line", "color": "#00FA9A", "strokeWidth": 2.5},
          "encoding": {
            "x": {"field": "j", "type": "quantitative", "axis": null},
            "y": {"field": "p", "type": "quantitative"}
          }
        },
        {
          "data": {"name": "buy"},
          "mark": {"type": "point", "shape": "square", "filled": true, "color": "#00FA9A", "size": 42, "opacity": 1},
          "encoding": {
            "x": {"field": "j", "type": "quantitative", "axis": null},
            "y": {"field": "p", "type": "quantitative"}
          }
        },
        {
          "data": {"name": "levels"},
          "mark": {"type": "bar", "orient": "horizontal", "size": 12},
          "encoding": {
            "x": {"datum": 233.6, "type": "quantitative", "axis": null},
            "x2": {"datum": 239.3},
            "y": {"field": "p", "type": "quantitative"},
            "fill": {"condition": {"test": "datum.kind == 'bid'", "value": "white"}, "value": "#FF0000"}
          }
        },
        {
          "data": {"name": "levels"},
          "mark": {"type": "text", "align": "left", "baseline": "middle", "color": "black", "fontSize": 9.3, "font": "Liberation Sans"},
          "encoding": {
            "x": {"datum": 234.1, "type": "quantitative", "axis": null},
            "y": {"field": "p", "type": "quantitative"},
            "text": {"field": "p", "format": ".5f"}
          }
        }
      ]
    },
    {
      "width": 1867,
      "height": 175,
      "title": {"text": "MACD(12,26,9) 0.002296 0.001832", "anchor": "start", "frame": "group", "orient": "top", "offset": -13, "dx": 4},
      "layer": [
        {
          "data": {"name": "macd"},
          "mark": {"type": "bar", "orient": "vertical", "size": 3, "color": "#C0C0C0", "clip": true},
          "encoding": {
            "x": {"field": "j", "type": "quantitative", "scale": {"domain": [0, 233.375], "nice": false, "zero": false, "padding": 0},
              "axis": {"title": null, "grid": false, "tickCount": 60, "values": [0, 8, 16, 24, 32, 40, 48, 56, 64, 72, 80, 88, 96, 104, 112, 120, 128, 136, 144, 152, 160, 168, 176, 184],
                "labelExpr": "['7 Jul 2020','8 Jul 12:00','9 Jul 20:00','13 Jul 00:00','14 Jul 08:00','15 Jul 16:00','17 Jul 00:00','20 Jul 04:00','21 Jul 12:00','22 Jul 20:00','24 Jul 04:00','27 Jul 08:00','28 Jul 16:00','30 Jul 00:00','31 Jul 08:00','3 Aug 12:00','4 Aug 20:00','6 Aug 04:00','7 Aug 12:00','10 Aug 16:00','12 Aug 00:00','13 Aug 08:00','14 Aug 16:00','17 Aug 20:00'][round(datum.value / 8)]",
                "labelAlign": "left", "labelBaseline": "top", "labelPadding": 1, "tickSize": 4, "tickColor": "white", "domainColor": "white", "labelColor": "white", "labelFont": "Liberation Sans", "labelFontSize": 9.3, "labelOverlap": false, "labelBound": false, "labelFlush": false}},
            "y": {"field": "m", "type": "quantitative", "scale": {"domain": [-0.00239, 0.006707], "nice": false, "zero": false, "padding": 0},
              "axis": {"orient": "right", "title": null, "grid": false, "tickCount": 10, "values": [0.006707, 0, -0.00239], "labelExpr": "datum.value === 0 ? '0.00' : (datum.value > 0 ? format(datum.value, '.6f') : format(datum.value, '.5f'))", "tickSize": 4, "tickColor": "white", "domainColor": "white", "labelColor": "white", "labelFont": "Liberation Sans", "labelFontSize": 9.3, "labelPadding": 2, "labelFlush": true, "labelFlushOffset": -3, "labelOverlap": false}},
            "y2": {"datum": 0}
          }
        },
        {
          "data": {"name": "signal"},
          "mark": {"type": "line", "color": "#FF0000", "strokeWidth": 1, "clip": true},
          "encoding": {
            "x": {"field": "j", "type": "quantitative"},
            "y": {"field": "s", "type": "quantitative"}
          }
        },
        {
          "data": {"values": [{}]},
          "mark": {"type": "rule", "color": "#FF0000", "strokeWidth": 1},
          "encoding": {
            "x": {"datum": 167, "type": "quantitative"},
            "y": {"datum": 0.006707, "type": "quantitative"},
            "y2": {"datum": -0.00255}
          }
        },
        {
          "data": {"values": [{"t": "2020.08.13 04:00"}]},
          "mark": {"type": "bar", "orient": "vertical", "size": 73, "color": "#FF0000"},
          "encoding": {
            "x": {"datum": 167, "type": "quantitative"},
            "y": {"datum": -0.00255, "type": "quantitative"},
            "y2": {"datum": -0.00322}
          }
        },
        {
          "data": {"values": [{"t": "2020.08.13 04:00"}]},
          "mark": {"type": "text", "align": "center", "baseline": "middle", "color": "white", "fontSize": 9.3, "font": "Liberation Sans"},
          "encoding": {
            "x": {"datum": 167, "type": "quantitative"},
            "y": {"datum": -0.00289, "type": "quantitative"},
            "text": {"field": "t"}
          }
        }
      ]
    }
  ]
}
